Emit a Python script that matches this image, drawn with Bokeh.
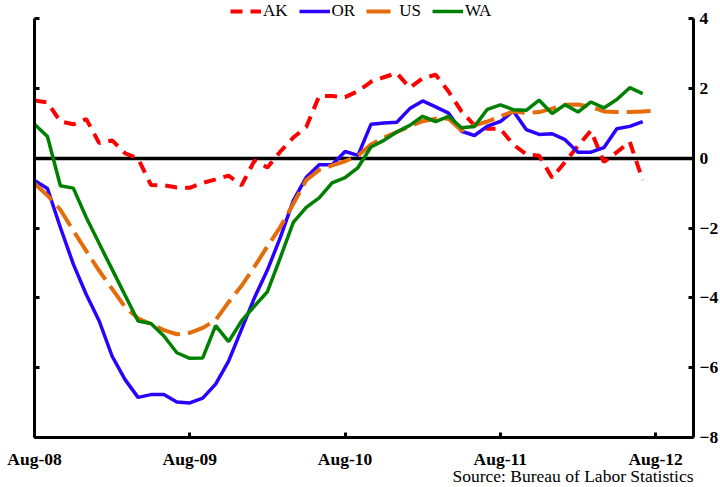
from bokeh.plotting import figure
from bokeh.models import (Range1d, LinearAxis, FixedTicker, Legend, LegendItem,
                          Label, ColumnDataSource)
from bokeh.embed import file_html
from bokeh.resources import INLINE

# ---------------- data (month index 0 = Aug-08) ----------------
tick_pos = [0, 12, 24, 36, 48]
tick_labels = ["Aug-08", "Aug-09", "Aug-10", "Aug-11", "Aug-12"]
y_ticks = [-8, -6, -4, -2, 0, 2, 4]

AK = [1.66, 1.61, 1.06, 0.98, 1.13, 0.44, 0.52, 0.15, 0.0, -0.76,
      -0.77, -0.83, -0.84, -0.70, -0.60, -0.49, -0.77, -0.06, -0.26, 0.20,
      0.60, 0.90, 1.79, 1.79, 1.76, 1.93, 2.20, 2.33, 2.45, 2.03,
      2.30, 2.40, 1.92, 1.35, 0.95, 0.85, 0.85, 0.40, 0.12, 0.08,
      -0.55, -0.10, 0.36, 0.80, -0.10, 0.18, 0.48, -0.62]
OR = [-0.63, -0.86, -1.98, -3.03, -3.90, -4.66, -5.67, -6.34, -6.85, -6.77,
      -6.77, -6.98, -7.01, -6.87, -6.47, -5.81, -4.90, -3.99, -3.20, -2.26,
      -1.21, -0.54, -0.18, -0.18, 0.20, 0.09, 0.98, 1.02, 1.04, 1.43,
      1.65, 1.48, 1.30, 0.78, 0.66, 0.93, 1.06, 1.36, 0.83, 0.69,
      0.71, 0.54, 0.18, 0.18, 0.31, 0.85, 0.92, 1.06]
US = [-0.72, -1.06, -1.47, -2.07, -2.65, -3.22, -3.74, -4.26, -4.58, -4.75,
      -4.92, -5.04, -5.00, -4.86, -4.63, -4.12, -3.65, -3.10, -2.52, -1.96,
      -1.30, -0.62, -0.33, -0.20, -0.08, 0.08, 0.40, 0.60, 0.76, 0.92,
      1.07, 1.14, 1.14, 0.80, 0.95, 1.06, 1.21, 1.35, 1.31, 1.33,
      1.43, 1.54, 1.55, 1.48, 1.35, 1.33, 1.33, 1.35, 1.37]
WA = [0.98, 0.63, -0.78, -0.85, -1.69, -2.44, -3.18, -3.92, -4.66, -4.73,
      -5.09, -5.57, -5.73, -5.72, -4.79, -5.25, -4.66, -4.23, -3.82, -2.84,
      -1.83, -1.40, -1.13, -0.70, -0.55, -0.26, 0.33, 0.52, 0.76, 0.95,
      1.21, 1.06, 1.21, 0.88, 0.92, 1.41, 1.54, 1.40, 1.38, 1.67,
      1.29, 1.54, 1.33, 1.62, 1.45, 1.69, 2.03, 1.86]

SOURCE = "Source: Bureau of Labor Statistics"

X_START = 0
X_AXIS_END = 50.93
Y_MIN, Y_MAX = -8, 4

FONT = "Liberation Serif"

# the frame covers the whole canvas; axes are pinned at fixed data locations
p = figure(width=720, height=487, output_backend="svg", toolbar_location=None,
           x_range=Range1d(-2.6275, 53.014), y_range=Range1d(-9.434, 4.53),
           x_axis_type=None, y_axis_type=None,
           min_border_left=0, min_border_right=0, min_border_top=0,
           min_border_bottom=0)
p.outline_line_color = None
p.background_fill_color = "white"
p.border_fill_color = "white"

# zero line
p.segment(x0=[X_START], y0=[0], x1=[X_AXIS_END], y1=[0],
          line_color="black", line_width=3.5)

def line(vals, color, width, dash="solid"):
    src = ColumnDataSource(dict(x=list(range(len(vals))), y=vals))
    return p.line("x", "y", source=src, line_color=color, line_width=width,
                  line_dash=dash)

r_ak = line(AK, "#FF0000", 4, "12 8")
r_or = line(OR, "#2A00FF", 3.5)
r_us = line(US, "#E46C0A", 4, "24 8")
r_wa = line(WA, "#008000", 3.5)

def style_axis(ax):
    ax.axis_line_width = 3
    ax.axis_line_color = "black"
    ax.major_tick_in = 5
    ax.major_tick_out = 0
    ax.major_tick_line_width = 3
    ax.minor_tick_in = 0
    ax.minor_tick_out = 0
    ax.major_label_text_font = FONT
    ax.major_label_text_font_size = "17.5px"
    ax.major_label_text_font_style = "bold"
    ax.major_label_text_color = "black"

xaxis = LinearAxis(ticker=FixedTicker(ticks=tick_pos),
                   major_label_overrides={t: l for t, l in zip(tick_pos, tick_labels)},
                   fixed_location=Y_MIN, bounds=(X_START, X_AXIS_END))
style_axis(xaxis)
xaxis.major_label_standoff = 12
p.add_layout(xaxis, "below")

raxis = LinearAxis(ticker=FixedTicker(ticks=y_ticks), fixed_location=X_AXIS_END,
                   bounds=(Y_MIN, Y_MAX))
style_axis(raxis)
raxis.major_label_standoff = 6
p.add_layout(raxis, "right")

laxis = LinearAxis(ticker=FixedTicker(ticks=y_ticks), fixed_location=X_START,
                   bounds=(Y_MIN, Y_MAX),
                   major_label_overrides={t: "" for t in y_ticks})
style_axis(laxis)
p.add_layout(laxis, "left")

src_label = Label(x=X_AXIS_END, y=Y_MIN, x_units="data", y_units="data",
                  y_offset=-39, text=SOURCE, text_align="right",
                  text_baseline="middle", text_font=FONT,
                  text_font_size="17.5px", text_color="black")
p.add_layout(src_label)

legend = Legend(items=[LegendItem(label="AK", renderers=[r_ak]),
                       LegendItem(label="OR", renderers=[r_or]),
                       LegendItem(label="US", renderers=[r_us]),
                       LegendItem(label="WA", renderers=[r_wa])],
                orientation="horizontal", location=(230, 466))
legend.label_text_font = FONT
legend.label_text_font_size = "17px"
legend.label_text_color = "black"
legend.glyph_width = 31
legend.glyph_height = 16
legend.label_height = 16
legend.label_standoff = 2
legend.spacing = 11
legend.padding = 0
legend.margin = 0
legend.border_line_color = None
legend.background_fill_alpha = 0
p.add_layout(legend)

open("out.html", "w").write(file_html(p, INLINE))
